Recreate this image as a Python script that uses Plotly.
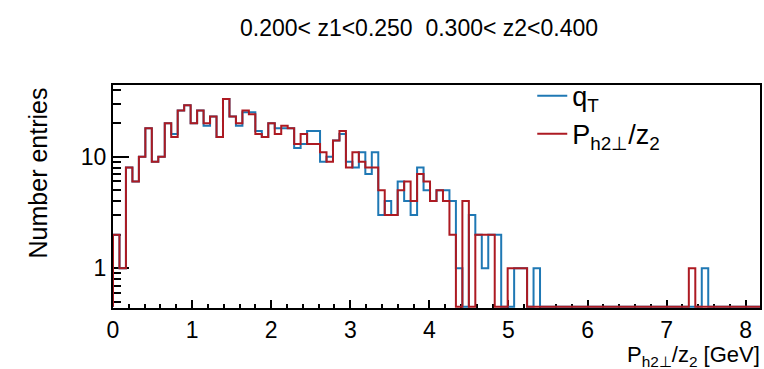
import math
import plotly.graph_objects as go

# ---------------- data ----------------
n_bins = 100
x_min, x_max = 0.0, 8.18

# counts per bin (blue: q_T, red: P_h2perp/z_2)
q_T = [2, 1, 8, 6, 10, 18, 9, 10, 20, 16,
       26, 29, 20, 26, 19, 23, 15, 33, 23, 19,
       25, 25, 17, 15, 20, 18, 18, 18, 12, 13,
       17, 17, 9, 10, 14, 16, 9, 8, 11, 7,
       11, 3, 4, 3, 6, 4, 3, 8, 5, 4,
       5, 5, 4, 1, 0, 3, 2, 1, 2, 2,
       0, 0, 1, 1, 0, 1, 0, 0, 0, 0,
       0, 0, 0, 0, 0, 0, 0, 0, 0, 0,
       0, 0, 0, 0, 0, 0, 0, 0, 0, 0,
       0, 1, 0, 0, 0, 0, 0, 0, 0, 0]
p_h2 = [2, 1, 8, 6, 10, 18, 9, 10, 20, 15,
        26, 29, 20, 26, 20, 23, 15, 33, 23, 20,
        26, 24, 16, 15, 20, 16, 19, 18, 13, 16,
        13, 13, 11, 9, 14, 17, 8, 11, 9, 8,
        8, 5, 3, 3, 5, 6, 4, 7, 6, 4,
        5, 4, 2, 0, 4, 0, 2, 2, 2, 0,
        0, 1, 1, 1, 0, 0, 0, 0, 0, 0,
        0, 0, 0, 0, 0, 0, 0, 0, 0, 0,
        0, 0, 0, 0, 0, 0, 0, 0, 0, 1,
        0, 0, 0, 0, 0, 0, 0, 0, 0, 0]

x_ticks = [0, 1, 2, 3, 4, 5, 6, 7, 8]
y_ticks = [1, 10]
y_minor = [0.5, 0.6, 0.7, 0.8, 0.9, 2, 3, 4, 5, 6, 7, 8, 9, 20, 30, 40]
title_text = "0.200< z1<0.250  0.300< z2<0.400"

# ---------------- helpers ----------------
y_lo, y_hi = 0.44, 44.0
floor = y_lo * 1.025
w = (x_max - x_min) / n_bins
edges = [x_min + i * w for i in range(n_bins + 1)]


def steps(counts):
    xs, ys = [edges[0]], [floor]
    for i, c in enumerate(counts):
        v = c if c > 0 else floor
        xs += [edges[i], edges[i + 1]]
        ys += [v, v]
    xs.append(edges[-1])
    ys.append(floor)
    return xs, ys


BLUE = "#1f78b4"
RED = "#ad1a22"
FONT = "Liberation Sans, Arial, Helvetica, sans-serif"

fig = go.Figure()
xb, yb = steps(q_T)
fig.add_trace(go.Scatter(x=xb, y=yb, mode="lines", name="q<sub>T</sub>",
                         line=dict(color=BLUE, width=2)))
xr, yr = steps(p_h2)
fig.add_trace(go.Scatter(x=xr, y=yr, mode="lines", name="P<sub>h2⊥</sub>/z<sub>2</sub>",
                         line=dict(color=RED, width=2)))

fig.update_layout(
    width=764, height=369,
    margin=dict(l=113, r=2, t=85, b=61),
    paper_bgcolor="white", plot_bgcolor="white",
    font=dict(family=FONT, color="black"),
    showlegend=True,
    legend=dict(x=0.648, y=1.06, xanchor="left", yanchor="top",
                bgcolor="rgba(0,0,0,0)", font=dict(size=27, family=FONT),
                tracegroupgap=0),
    xaxis=dict(range=[x_min, x_max], showline=True, linewidth=2, linecolor="black",
               mirror=True, showgrid=False, zeroline=False,
               ticks="inside", ticklen=8, tickwidth=2, tickcolor="black",
               tickvals=x_ticks, ticktext=[str(t) for t in x_ticks],
               tickfont=dict(size=23, family=FONT),
               minor=dict(ticks="inside", ticklen=4, tickwidth=2, tickcolor="black", dtick=0.2),
               layer="below traces"),
    yaxis=dict(type="log", range=[math.log10(y_lo), math.log10(y_hi)],
               showline=True, linewidth=2, linecolor="black",
               mirror=True, showgrid=False, zeroline=False,
               ticks="inside", ticklen=16, tickwidth=2, tickcolor="black",
               tickvals=y_ticks, ticktext=[str(t) for t in y_ticks],
               tickfont=dict(size=23, family=FONT),
               minor=dict(ticks="inside", ticklen=8, tickwidth=2, tickcolor="black",
                          tickmode="array", tickvals=y_minor),
               layer="below traces"),
    annotations=[
        dict(text=title_text, xref="paper", yref="paper", x=0.473, y=1.254,
             xanchor="center", yanchor="middle", showarrow=False,
             font=dict(size=23, family=FONT)),
        dict(text="Number entries", xref="paper", yref="paper", x=-0.116, y=1.0,
             xanchor="center", yanchor="top", textangle=-90, showarrow=False,
             font=dict(size=25, family=FONT)),
        dict(text="P<sub>h2⊥</sub>/z<sub>2</sub> [GeV]", xref="paper", yref="paper",
             x=1.003, y=-0.215, xanchor="right", yanchor="middle", showarrow=False,
             font=dict(size=22, family=FONT)),
    ],
)

fig.write_html("out.html", config={"displayModeBar": False},
               post_script="document.body.style.margin='0';document.body.style.overflow='hidden';")
